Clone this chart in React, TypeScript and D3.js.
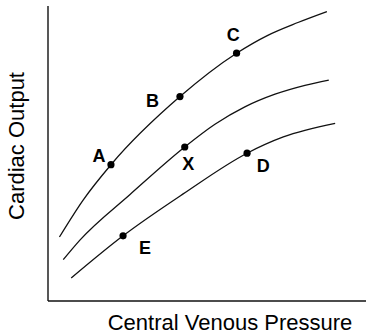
import React from "react";
import * as d3 from "d3";

const upperCurve: [number, number][] = [
  [0.36, 2.17], [1.11, 3.43], [1.98, 4.62], [4.15, 6.93], [5.93, 8.4], [6.88, 8.99], [7.86, 9.44], [8.77, 9.81],
];
const middleCurve: [number, number][] = [
  [0.48, 1.4], [1.01, 2.07], [2.58, 3.61], [4.3, 5.22], [5.25, 5.99], [6.19, 6.58], [7.14, 7.01], [8.08, 7.31], [8.83, 7.49],
];
const lowerCurve: [number, number][] = [
  [0.73, 0.78], [2.36, 2.21], [4.25, 3.63], [6.26, 5.01], [7.4, 5.56], [9.03, 6.02],
];
const pointNames = ["A", "B", "C", "X", "D", "E"];
const pointX = [1.98, 4.15, 5.93, 4.3, 6.26, 2.36];
const pointY = [4.62, 6.93, 8.4, 5.22, 5.01, 2.21];
const xTitle = "Central Venous Pressure";
const yTitle = "Cardiac Output";

const labelOffset: Record<string, [number, number]> = {
  A: [-12, -3],
  B: [-27.5, 10],
  C: [-3.4, -12.6],
  X: [3.6, 23],
  D: [16.3, 19],
  E: [22, 18.3],
};

const W = 366;
const H = 336;

export default function App() {
  const x = d3.scaleLinear().domain([0, 10]).range([48, 366]);
  const y = d3.scaleLinear().domain([0, 10]).range([301, 6]);
  const line = d3
    .line<[number, number]>()
    .x((d) => x(d[0]))
    .y((d) => y(d[1]))
    .curve(d3.curveMonotoneX);
  const font = "'Liberation Sans', Arial, Helvetica, sans-serif";
  return (
    <svg
      width={W}
      height={H}
      style={{ position: "absolute", left: 0, top: 0, background: "#fff" }}
    >
      <rect width={W} height={H} fill="#fff" />
      <line x1={x(0)} x2={x(0)} y1={y(10)} y2={y(0)} stroke="#111" strokeWidth={1.4} />
      <line x1={x(0)} x2={x(10)} y1={y(0)} y2={y(0)} stroke="#111" strokeWidth={1.4} />
      {[upperCurve, middleCurve, lowerCurve].map((c, i) => (
        <path key={i} d={line(c) || ""} fill="none" stroke="#111" strokeWidth={1.3} />
      ))}
      {pointNames.map((n, i) => (
        <g key={n}>
          <circle cx={x(pointX[i])} cy={y(pointY[i])} r={3.6} fill="#000" />
          <text
            x={x(pointX[i]) + labelOffset[n][0]}
            y={y(pointY[i]) + labelOffset[n][1]}
            textAnchor="middle"
            fontFamily={font}
            fontWeight="bold"
            fontSize={18}
            fill="#000"
          >
            {n}
          </text>
        </g>
      ))}
      <text x={230} y={330} textAnchor="middle" fontFamily={font} fontSize={22} fill="#000">
        {xTitle}
      </text>
      <text
        transform="translate(24,146) rotate(-90)"
        textAnchor="middle"
        fontFamily={font}
        fontSize={22}
        fill="#000"
      >
        {yTitle}
      </text>
    </svg>
  );
}
